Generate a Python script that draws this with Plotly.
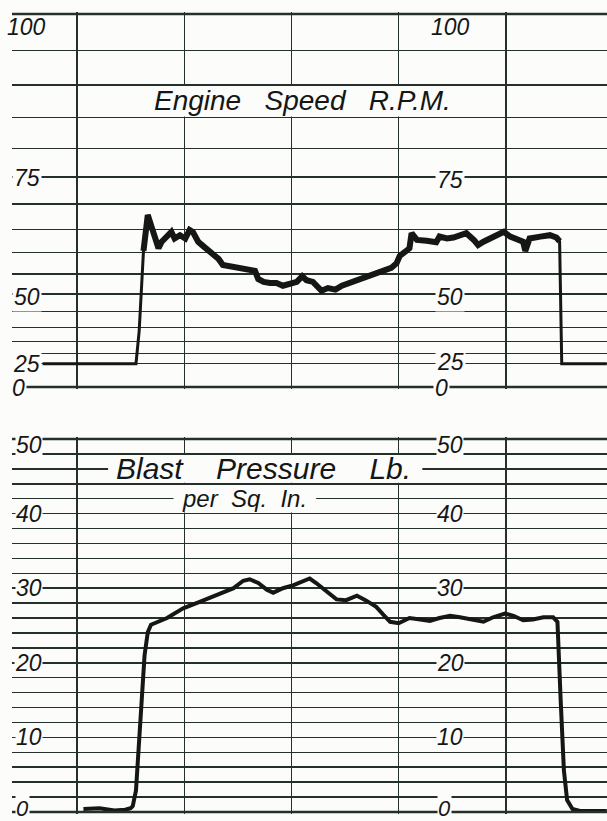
import plotly.graph_objects as go

# ---------------- data ----------------
# Engine speed trace: time (chart units, vertical rulings every 10) and R.P.M. scale value
rpm_time = [6.8, 15.5, 15.8, 16.0, 16.2, 16.6, 17.0, 17.3, 17.6, 17.9,
            18.4, 18.8, 19.1, 19.6, 20.1, 20.5, 20.8, 21.3, 21.8, 22.2,
            22.7, 23.2, 23.6, 24.3, 24.9, 25.5, 26.1, 26.6, 26.9, 27.4,
            28.0, 28.6, 29.2, 29.9, 30.5, 31.0, 31.4, 32.0, 32.4, 32.8,
            33.4, 34.1, 34.7, 35.5, 36.1, 36.7, 37.3, 37.9, 38.6, 39.3,
            39.8, 40.1, 40.7, 41.0, 41.2, 41.7, 42.6, 43.5, 43.8, 44.5,
            45.1, 45.7, 46.3, 47.0, 47.4, 47.9, 48.5, 49.1, 49.8, 50.4,
            51.0, 51.6, 51.8, 52.2, 53.2, 54.1, 54.7, 55.0, 55.2, 59.4]
rpm_value = [25, 25, 38.8, 51.8, 60.4, 67.9, 65.2, 63.1, 61.0, 62.4,
             63.8, 64.5, 63.1, 63.8, 63.1, 64.9, 64.5, 62.4, 61.4, 60.7,
             59.6, 58.6, 57.2, 56.9, 56.5, 56.5, 56.2, 55.8, 53.8, 53.1,
             52.8, 52.8, 52.1, 52.5, 53.1, 54.5, 53.5, 53.1, 52.1, 50.8,
             51.5, 51.1, 52.1, 52.9, 53.5, 54.1, 54.8, 55.5, 56.0, 56.5,
             57.6, 59.3, 60.4, 61.0, 64.2, 62.8, 62.6, 62.3, 63.5, 63.1,
             63.3, 63.7, 64.2, 62.8, 61.7, 62.4, 63.1, 63.8, 64.5, 63.5,
             63.1, 62.4, 60.4, 63.1, 63.5, 63.8, 63.3, 62.5, 25, 25]

# Blast pressure trace: time and Lb. per Sq. In.
psi_time = [10.6, 12.1, 13.5, 14.5, 15.0, 15.2, 15.5, 15.7, 15.9, 16.1,
            16.3, 16.6, 16.9, 18.4, 19.9, 21.5, 23.0, 24.6, 25.5, 26.1,
            26.9, 27.7, 28.3, 29.2, 30.2, 31.1, 31.7, 32.3, 33.3, 34.2,
            35.1, 36.1, 36.9, 37.9, 38.6, 39.2, 40.0, 41.0, 42.0, 42.9,
            43.8, 44.8, 45.7, 46.6, 47.9, 48.8, 49.9, 50.7, 51.6, 52.5,
            53.5, 54.4, 54.8, 55.1, 55.4, 55.7, 56.2, 56.9, 59.4]
psi_value = [0.4, 0.5, 0.2, 0.3, 0.5, 0.8, 2.9, 7.0, 11.9, 16.4,
             21.0, 24.1, 25.1, 26.0, 27.3, 28.2, 29.1, 30.0, 31.0, 31.2,
             30.7, 29.8, 29.4, 30.0, 30.4, 30.9, 31.3, 30.7, 29.5, 28.5,
             28.4, 29.0, 28.4, 27.5, 26.4, 25.5, 25.3, 26.0, 25.8, 25.6,
             26.0, 26.3, 26.1, 25.8, 25.5, 26.1, 26.6, 26.3, 25.7, 25.8,
             26.1, 26.1, 25.5, 15.0, 5.6, 1.6, 0.4, 0.15, 0.15]

# Rulings and scale labels
rpm_grid = [25, 30, 35, 40, 45, 50, 55, 60, 65, 70, 75, 80, 85, 90, 95, 100]
rpm_labels = [0, 25, 50, 75, 100]
psi_grid = list(range(0, 52, 2))
psi_labels = [0, 10, 20, 30, 40, 50]
time_rulings = [10, 20, 30, 40, 50]


def rpm_scale(v):
    """Square-law tachometer scale used on the upper chart."""
    return v * v


# ---------------- style ----------------
INK = "#141715"
GRID = "#26302b"
PAPER = "#fcfcfa"
FONT = "Liberation Sans, Arial, sans-serif"

fig = go.Figure()
# whole engine-speed record (thin pen) and the running part (broad, vibrating pen)
fig.add_trace(go.Scatter(
    x=rpm_time, y=[rpm_scale(v) for v in rpm_value], mode="lines",
    line=dict(color=INK, width=3), xaxis="x", yaxis="y", hoverinfo="skip"))
fig.add_trace(go.Scatter(
    x=rpm_time[4:-2], y=[rpm_scale(v) for v in rpm_value[4:-2]], mode="lines",
    line=dict(color=INK, width=6), xaxis="x", yaxis="y", hoverinfo="skip"))
fig.add_trace(go.Scatter(
    x=psi_time, y=psi_value, mode="lines",
    line=dict(color=INK, width=4), xaxis="x2", yaxis="y2", hoverinfo="skip"))

x_range = [3.94, 59.42]
xcommon = dict(range=x_range, tickvals=time_rulings, showgrid=True, gridcolor=GRID,
               gridwidth=1.4, showticklabels=False, zeroline=False, ticks="",
               showline=False, fixedrange=True)
ycommon = dict(showgrid=True, gridcolor=GRID, gridwidth=1.5, showticklabels=False,
               zeroline=False, ticks="", showline=False, fixedrange=True)

fig.update_layout(
    width=607, height=821,
    margin=dict(l=12, r=0, t=12, b=7),
    paper_bgcolor=PAPER, plot_bgcolor=PAPER, showlegend=False,
    xaxis=dict(domain=[0, 1], anchor="y", **xcommon),
    xaxis2=dict(domain=[0, 1], anchor="y2", matches="x", **xcommon),
    yaxis=dict(domain=[0.52993, 1], anchor="x",
               range=[-53.6, 10053.6],
               tickvals=[0] + [rpm_scale(v) for v in rpm_grid], **ycommon),
    yaxis2=dict(domain=[0, 0.47007], anchor="x2",
                range=[-0.268, 50.268], tickvals=psi_grid, **ycommon),
)

# heavy border rulings (top edge and zero line of each chart)
for yref, vals in (("y", [0, rpm_scale(100)]), ("y2", [0, 50])):
    for v in vals:
        fig.add_shape(type="line", xref="paper", x0=0, x1=1, yref=yref, y0=v, y1=v,
                      line=dict(color=GRID, width=2.6))

# blank lettering panels where the titles interrupt the rulings
blank = dict(type="rect", line=dict(width=0), fillcolor=PAPER, layer="above")
fig.add_shape(xref="x", yref="y", x0=16.3, x1=45.8,
              y0=rpm_scale(85) + 30, y1=rpm_scale(90) - 30, **blank)
fig.add_shape(xref="x2", yref="y2", x0=12.9, x1=42.2, y0=44.15, y1=47.85, **blank)
fig.add_shape(xref="x2", yref="y2", x0=19.0, x1=32.3, y0=40.15, y1=43.85, **blank)

lab_font = dict(family=FONT, size=23, color=INK, style="italic")
zero_font = dict(family=FONT, size=22, color=INK, style="italic")

# scale labels on the upper chart (left column and middle column)
rpm_shift_left = {0: -1, 25: 0, 50: -3, 75: -1, 100: -13}
rpm_shift_right = {0: -1, 25: 2, 50: -3, 75: -3, 100: -13}
for v in rpm_labels:
    bg = "rgba(0,0,0,0)" if v == 100 else PAPER
    fig.add_annotation(x=4.5 if v == 0 else 5.3, y=rpm_scale(v), xref="x", yref="y",
                       text=str(v), showarrow=False, font=lab_font,
                       bgcolor=bg, borderpad=1, yshift=rpm_shift_left[v])
    fig.add_annotation(x=44.0 if v == 0 else 44.8, y=rpm_scale(v), xref="x", yref="y",
                       text=str(v), showarrow=False, font=lab_font,
                       bgcolor=bg, borderpad=1, yshift=rpm_shift_right[v])

# scale labels on the lower chart
for v in psi_labels:
    ys = -6 if v == 50 else (4 if v == 0 else 0)
    f = zero_font if v == 0 else lab_font
    fig.add_annotation(x=4.9 if v == 0 else 5.5, y=v, xref="x2", yref="y2",
                       text=str(v), showarrow=False, font=f,
                       bgcolor=PAPER, borderpad=0, yshift=ys)
    fig.add_annotation(x=44.3 if v == 0 else 44.8, y=v, xref="x2", yref="y2",
                       text=str(v), showarrow=False, font=f,
                       bgcolor=PAPER, borderpad=0, yshift=ys)

# chart titles, lettered on the rulings
sp = "\u00a0\u00a0\u00a0"
fig.add_annotation(x=31.0, y=(rpm_scale(85) + rpm_scale(90)) / 2, xref="x", yref="y",
                   text="Engine" + sp + "Speed" + sp + "R.P.M.", showarrow=False,
                   font=dict(family=FONT, size=28, color=INK, style="italic"),
                   yshift=1)
sp4 = "\u00a0\u00a0\u00a0\u00a0"
fig.add_annotation(x=27.4, y=46, xref="x2", yref="y2",
                   text="Blast" + sp4 + "Pressure" + sp4 + "Lb.", showarrow=False,
                   font=dict(family=FONT, size=30, color=INK, style="italic"))
fig.add_annotation(x=25.6, y=42, xref="x2", yref="y2",
                   text="per\u00a0\u00a0Sq.\u00a0\u00a0In.", showarrow=False,
                   font=dict(family=FONT, size=24, color=INK, style="italic"))

fig.write_html("out.html",
               config={"displayModeBar": False, "staticPlot": True},
               post_script="document.body.style.margin='0';"
                           "document.body.style.overflow='hidden';")
